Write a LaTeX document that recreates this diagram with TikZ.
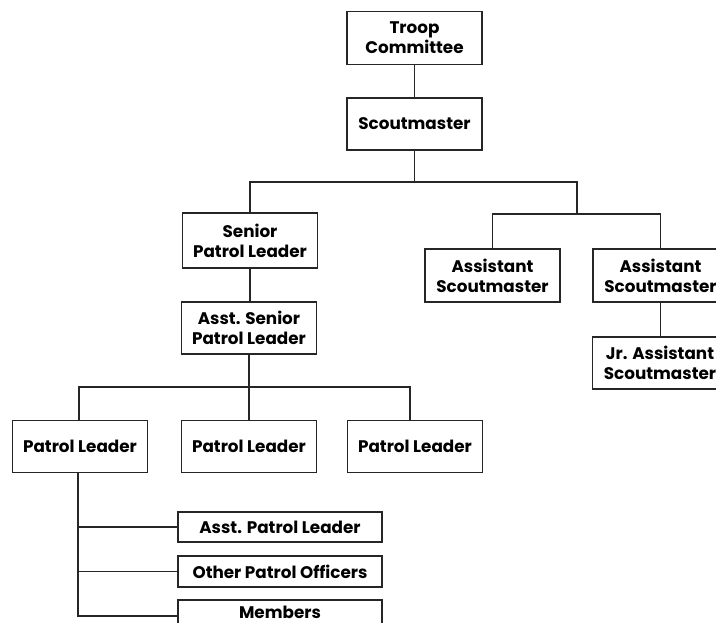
\documentclass[tikz,border=0pt]{standalone}
\usepackage{fontspec}
\setmainfont{Poppins}
\begin{document}
\begin{tikzpicture}[x=1pt,y=-1pt,
  line/.style={draw=black!85,line width=1.3pt},
  box/.style={draw=black!85,line width=1.3pt,fill=white,inner sep=0pt,align=center,
    minimum width=135pt,minimum height=53pt,
    font=\fontsize{16.8}{20}\selectfont\bfseries},
  sbox/.style={box,minimum width=204pt,minimum height=30pt}]
\useasboundingbox (0,0) rectangle (716,623);
\clip (0,0) rectangle (716,623);
\fill[white] (0,0) rectangle (716,623);
% nodes
\node[box] (tc) at (414.5,38) {Troop\\Committee};
\node[box,minimum height=52pt] (sm) at (414.5,124) {Scoutmaster};
\node[box,minimum height=55pt] (spl) at (250,240.5) {Senior\\Patrol Leader};
\node[box,minimum height=52pt] (aspl) at (249,328) {Asst. Senior\\Patrol Leader};
\node[box] (as1) at (492.5,275.5) {Assistant\\Scoutmaster};
\node[box] (as2) at (660.5,275.5) {Assistant\\Scoutmaster};
\node[box,minimum height=52pt] (jas) at (660,363) {Jr. Assistant\\Scoutmaster};
\node[box,minimum height=52pt] (pl1) at (80,446.5) {Patrol Leader};
\node[box,minimum height=52pt] (pl2) at (249,446.5) {Patrol Leader};
\node[box,minimum height=52pt] (pl3) at (415,446.5) {Patrol Leader};
\node[sbox] (apl) at (280,527) {Asst. Patrol Leader};
\node[sbox,minimum height=31pt] (opo) at (280,571.5) {Other Patrol Officers};
\node[sbox,minimum height=25pt] (mem) at (280,612.5) {Members};
% junctions
\coordinate (j1) at (414.5,182);
\coordinate (j2) at (577,182);
\coordinate (j3) at (577,214);
\coordinate (j4) at (249,387);
\coordinate (t1) at ([xshift=-2pt]pl1.south);
\coordinate (t2) at (78,616);
% connectors
\draw[line] (tc) -- (sm);
\draw[line] (sm.south) -- (j1);
\draw[line] (spl.north) |- (j2) -- (j3);
\draw[line] (as1.north) |- (j3);
\draw[line] (as2.north) |- (j3);
\draw[line] (spl.south) -- (spl.south |- aspl.north);
\draw[line] (as2.south) -- (as2.south |- jas.north);
\draw[line] (aspl.south) -- (j4);
\draw[line] ([xshift=-1pt]pl1.north) |- (j4);
\draw[line] ([xshift=-5pt]pl3.north) |- (j4);
\draw[line] (pl2.north) -- (j4);
\draw[line] (t1) -- (t2) -- (t2 -| mem.west);
\draw[line] (apl.west) -- (apl.west -| t1);
\draw[line] (opo.west) -- (opo.west -| t1);
\end{tikzpicture}
\end{document}
